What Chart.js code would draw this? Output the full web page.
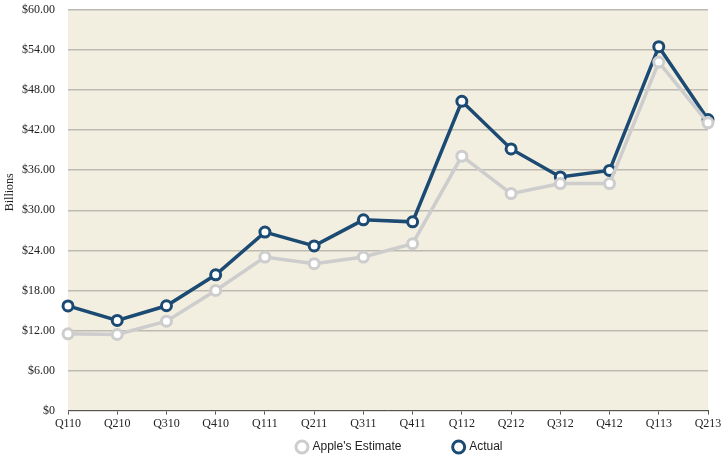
<!DOCTYPE html>
<html>
<head>
<meta charset="utf-8">
<script src="https://cdn.jsdelivr.net/npm/chart.js@4"></script>
<style>
html,body{margin:0;padding:0;background:#fff}
#wrap{width:728px;height:461px}
</style>
</head>
<body>
<div id="wrap"><canvas id="grafico"></canvas></div>
<script>
// quarters and revenue in billions of dollars
let quarters=["Q110","Q210","Q310","Q410","Q111","Q211","Q311","Q411","Q112","Q212","Q312","Q412","Q113","Q213"]
let estimate=[11.5,11.4,13.4,18.0,23.0,22.0,23.0,25.0,38.1,32.5,34.0,34.0,52.2,43.1]
let actual=[15.68,13.5,15.7,20.34,26.74,24.67,28.57,28.27,46.33,39.19,35.0,35.97,54.51,43.6]
let yTicks=[0,6,12,18,24,30,36,42,48,54,60]
let yTitle="Billions"

let serif="'Liberation Serif','DejaVu Serif',serif"

// beige fill behind the plot
let fundo={
id:'fundo',
beforeDraw(c){
let a=c.chartArea
let ctx=c.ctx
ctx.save()
ctx.fillStyle='#f2eee0'
ctx.fillRect(a.left,a.top,a.right-a.left,a.bottom-a.top)
ctx.restore()
}
}

// nudge the legend a bit right and down
let ajuste={
id:'ajuste',
afterLayout(c){
let l=c.legend
l.left+=12;l.right+=12
l.top+=2;l.bottom+=2
}
}

// y title sits a little above the middle in the original
let titulo={
id:'titulo',
afterDraw(c){
let ctx=c.ctx
let a=c.chartArea
ctx.save()
ctx.translate(10,a.top+(a.bottom-a.top)*0.455)
ctx.rotate(-Math.PI/2)
ctx.fillStyle='#222'
ctx.font="12px "+serif
ctx.textAlign='center'
ctx.textBaseline='middle'
ctx.fillText(yTitle,0,0)
ctx.restore()
}
}

new Chart(document.getElementById("grafico"),{
type:'line',
data:{
labels:quarters,
datasets:[{
label:"Apple's Estimate",
data:estimate,
borderColor:'#cdcdcd',
backgroundColor:'#e2e2e2',
borderWidth:3.5,
pointRadius:5,
pointBorderWidth:3,
pointBackgroundColor:'#fff',
pointBorderColor:'#cdcdcd',
tension:0
},{
label:'Actual',
data:actual,
borderColor:'#1b4a72',
backgroundColor:'#fff',
borderWidth:3.5,
pointRadius:5,
pointBorderWidth:3,
pointBackgroundColor:'#fff',
pointBorderColor:'#1b4a72',
tension:0
}]
},
plugins:[fundo,ajuste,titulo],
options:{
responsive:true,
maintainAspectRatio:false,
animation:false,
layout:{padding:{top:0,right:20,left:0,bottom:0}},
plugins:{
legend:{
position:'bottom',
fullSize:false,
labels:{
usePointStyle:true,
pointStyle:'circle',
boxWidth:9,
boxHeight:8.5,
padding:6,
color:'#222',
font:{family:"'Liberation Sans',Arial,sans-serif",size:12},
generateLabels(c){
let items=Chart.defaults.plugins.legend.labels.generateLabels(c)
items.forEach((it,i)=>{
it.lineWidth=3
// extra room after the first entry, like the original spacing
if(i==0)it.text=it.text+'\u00a0'.repeat(14)
})
return items
}
}
},
tooltip:{enabled:false}
},
scales:{
x:{
offset:false,
grid:{drawOnChartArea:false,drawTicks:true,tickLength:4,color:'#555'},
border:{color:'#555',width:1},
ticks:{color:'#222',font:{family:serif,size:12},maxRotation:0,autoSkip:false,padding:2}
},
y:{
min:0,
max:60,
afterBuildTicks(ax){ax.ticks=yTicks.map(v=>({value:v}))},
afterFit(ax){ax.width=68;ax.paddingTop=10},
grid:{color:'#bdbab2',lineWidth:1.5,drawTicks:false},
border:{display:false},
ticks:{
color:'#222',
padding:13,
font:{family:serif,size:12},
callback:v=>v===0?'$0':'$'+v.toFixed(2)
}
}
}
}
})
</script>
</body>
</html>
